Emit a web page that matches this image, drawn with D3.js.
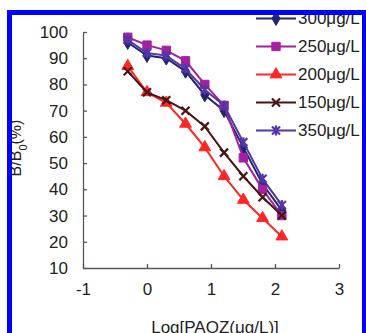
<!DOCTYPE html>
<html>
<head>
<meta charset="utf-8">
<script src="https://cdn.jsdelivr.net/npm/d3@7"></script>
<style>
  body { margin: 0; background: #fff; }
  svg { display: block; font-family: "Liberation Sans", Arial, sans-serif; }
</style>
</head>
<body>
<div id="graphicContainer"></div>
<script>
// log of PAOZ concentration (ug/L)
var logConc = [-0.301, 0, 0.301, 0.602, 0.903, 1.204, 1.505, 1.806, 2.107];

var s300 = [96, 91, 90, 85, 76, 70, 56, 42, 32];
var s250 = [98, 95, 93, 89, 80, 72, 52, 40, 30];
var s200 = [87, 77, 73, 65, 56, 45, 36, 29, 22];
var s150 = [85, 77, 74, 70, 64, 54, 45, 37, 30];
var s350 = [97, 92, 91, 86, 78, 72, 58, 44, 34];

var seriesNames = ["300μg/L", "250μg/L", "200μg/L", "150μg/L", "350μg/L"];
var xTicks = [-1, 0, 1, 2, 3];
var yTicks = [10, 20, 30, 40, 50, 60, 70, 80, 90, 100];

var series = [
  {name: seriesNames[0], values: s300, color: "#1f256e", marker: "diamond"},
  {name: seriesNames[1], values: s250, color: "#a3219f", marker: "square"},
  {name: seriesNames[2], values: s200, color: "#ff2626", marker: "triangle"},
  {name: seriesNames[3], values: s150, color: "#4a1414", marker: "cross"},
  {name: seriesNames[4], values: s350, color: "#5435a6", marker: "star"}
];

var width = 366, height = 333;

var svg = d3.select("#graphicContainer").append("svg")
  .attr("width", width)
  .attr("height", height);

var x = d3.scaleLinear().domain([-1, 3]).range([83, 339]);
var y = d3.scaleLinear().domain([10, 100]).range([268, 32]);

var axisColor = "#5e5454";

// axes (ticks point inward)
var xAxis = svg.append("g")
  .attr("transform", "translate(0," + y(10) + ")")
  .call(d3.axisBottom(x).tickValues(xTicks).tickFormat(function(d) { return String(d); })
    .tickSizeInner(-4).tickSizeOuter(0).tickPadding(22));
var yAxis = svg.append("g")
  .attr("transform", "translate(" + x(-1) + ",0)")
  .call(d3.axisLeft(y).tickValues(yTicks).tickSizeInner(-4).tickSizeOuter(0).tickPadding(15));

[xAxis, yAxis].forEach(function(a) {
  a.select(".domain").attr("stroke", axisColor).attr("stroke-width", 1.3);
  a.selectAll(".tick line").attr("stroke", axisColor).attr("stroke-width", 1.3);
  a.selectAll(".tick text").attr("fill", "#222").style("font-size", "17px")
    .style("font-family", "'Liberation Sans', Arial, sans-serif");
});
xAxis.selectAll(".tick text").attr("dy", "0.32em");

function markerPath(type, size) {
  var s = size;
  switch (type) {
    case "diamond": return d3.symbol().type(d3.symbolDiamond).size(s * 5.5)();
    case "square": return d3.symbol().type(d3.symbolSquare).size(s * 7)();
    case "triangle": return d3.symbol().type(d3.symbolTriangle).size(s * 6)();
    case "cross": return "M-4,-4L4,4M-4,4L4,-4";
    case "star": return "M-4,-4L4,4M-4,4L4,-4M0,-5L0,5";
  }
}

var line = d3.line()
  .x(function(d, i) { return x(logConc[i]); })
  .y(function(d) { return y(d); });

series.forEach(function(s) {
  var g = svg.append("g");
  g.append("path")
    .datum(s.values)
    .attr("d", line)
    .attr("fill", "none")
    .attr("stroke", s.color)
    .attr("stroke-width", 2);
  g.selectAll("path.m")
    .data(s.values)
    .enter()
    .append("path")
    .attr("class", "m")
    .attr("transform", function(d, i) { return "translate(" + x(logConc[i]) + "," + y(d) + ")"; })
    .attr("d", markerPath(s.marker, 10))
    .attr("fill", s.color)
    .attr("stroke", s.color)
    .attr("stroke-width", (s.marker == "cross" || s.marker == "star") ? 2.2 : 1);
});

// legend
var legend = svg.append("g");
series.forEach(function(s, i) {
  var ly = 18.5 + i * 28;
  legend.append("line")
    .attr("x1", 256).attr("x2", 296)
    .attr("y1", ly).attr("y2", ly)
    .attr("stroke", s.color).attr("stroke-width", 2);
  legend.append("path")
    .attr("transform", "translate(276," + ly + ")")
    .attr("d", markerPath(s.marker, 10))
    .attr("fill", s.color)
    .attr("stroke", s.color)
    .attr("stroke-width", (s.marker == "cross" || s.marker == "star") ? 2.2 : 1);
  legend.append("text")
    .attr("x", 298).attr("y", ly)
    .attr("dy", "0.35em")
    .attr("fill", "#222")
    .style("font-size", "17px")
    .text(s.name);
});

// axis titles
svg.append("text")
  .attr("transform", "translate(21,148) rotate(-90)")
  .attr("text-anchor", "middle")
  .attr("fill", "#222")
  .style("font-size", "16px")
  .html("B/B<tspan baseline-shift='sub' font-size='11px'>0</tspan>(%)");

svg.append("text")
  .attr("x", 215).attr("y", 333)
  .attr("text-anchor", "middle")
  .attr("fill", "#222")
  .style("font-size", "17px")
  .text("Log[PAOZ(μg/L)]");

// blue frame
svg.append("rect")
  .attr("x", 9.5).attr("y", 12.5)
  .attr("width", 355).attr("height", 400)
  .attr("fill", "none")
  .attr("stroke", "#0000ff")
  .attr("stroke-width", 5);
</script>
</body>
</html>
